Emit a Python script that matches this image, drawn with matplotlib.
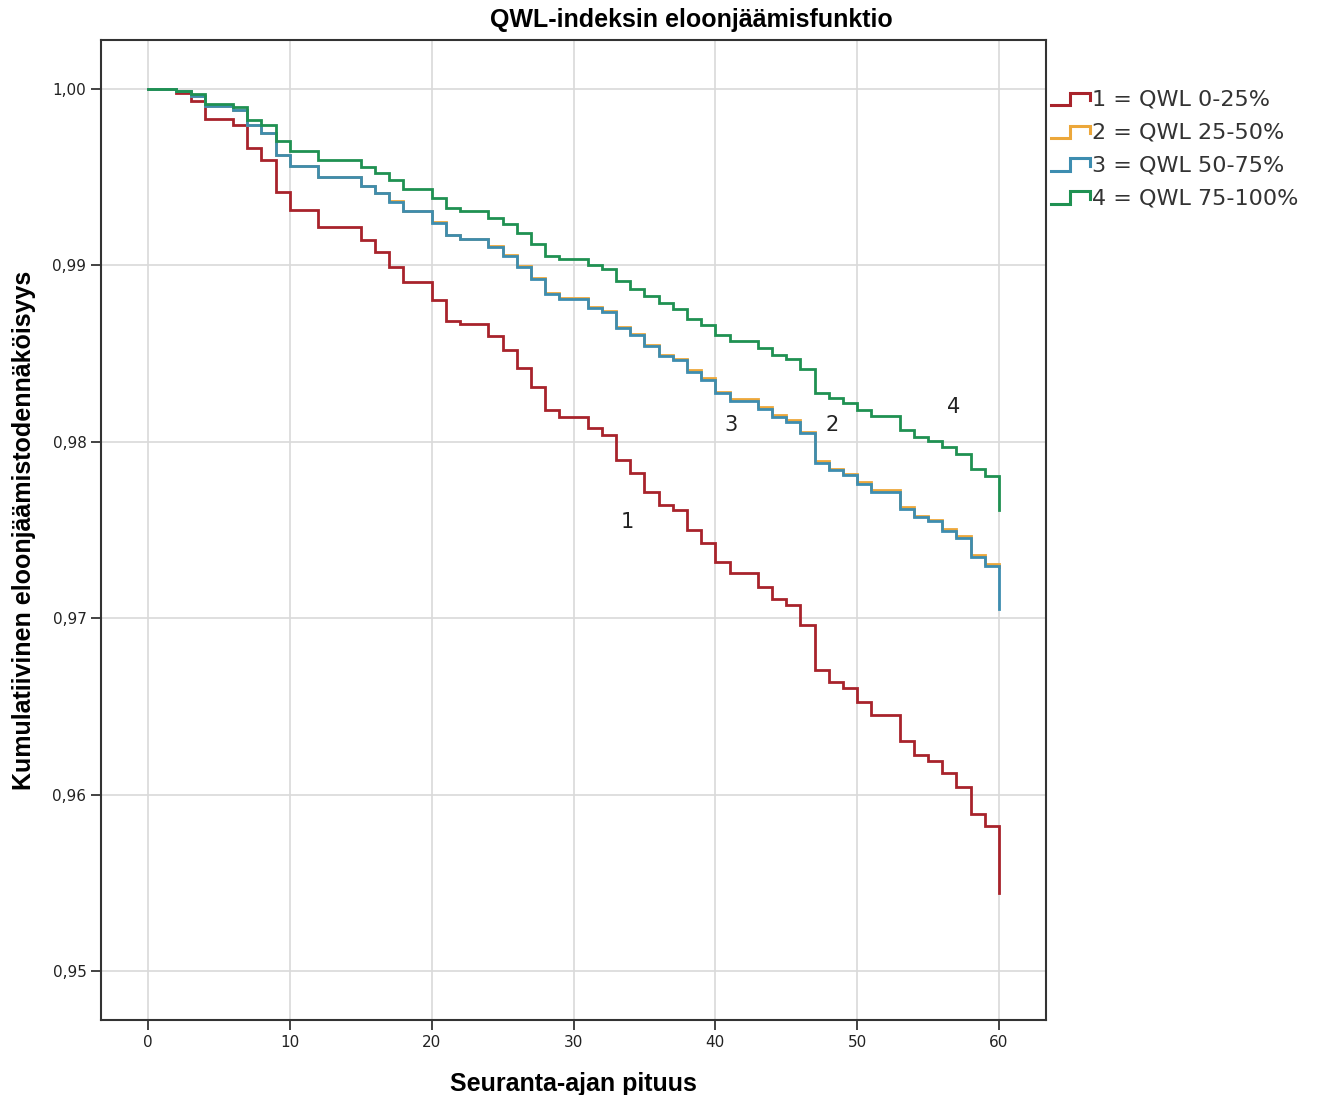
import matplotlib
matplotlib.use("Agg")
import matplotlib.pyplot as plt
from matplotlib.legend_handler import HandlerBase
from matplotlib.lines import Line2D

times = [0, 2, 3, 4, 6, 7, 8, 9, 10, 12, 15, 16, 17, 18, 20, 21, 22, 24, 25, 26, 27, 28, 29,
         31, 32, 33, 34, 35, 36, 37, 38, 39, 40, 41, 43, 44, 45, 46, 47, 48, 49, 50, 51,
         53, 54, 55, 56, 57, 58, 59, 60]

surv_q1 = [1.0, 0.99977, 0.99934, 0.99829, 0.99797, 0.99664, 0.99598, 0.99417, 0.99313, 0.99218,
           0.99142, 0.99076, 0.98990, 0.98905, 0.98803, 0.98685, 0.98668, 0.98598, 0.98522, 0.98417,
           0.98313, 0.98180, 0.98142, 0.98076, 0.98038, 0.97896, 0.97821, 0.97717, 0.97642, 0.97613,
           0.97500, 0.97425, 0.97321, 0.97255, 0.97179, 0.97108, 0.97075, 0.96962, 0.96708, 0.96636,
           0.96604, 0.96523, 0.96453, 0.96302, 0.96226, 0.96192, 0.96123, 0.96042, 0.95891, 0.95821,
           0.95443]

surv_q2 = [1.0, 0.99988, 0.99963, 0.99902, 0.99883, 0.99798, 0.99752, 0.99628, 0.99566, 0.99501,
           0.99452, 0.99410, 0.99363, 0.99308, 0.99246, 0.99174, 0.99151, 0.99110, 0.99058, 0.98997,
           0.98929, 0.98841, 0.98816, 0.98765, 0.98740, 0.98652, 0.98610, 0.98548, 0.98491, 0.98472,
           0.98406, 0.98359, 0.98283, 0.98242, 0.98195, 0.98150, 0.98122, 0.98055, 0.97889, 0.97848,
           0.97819, 0.97772, 0.97724, 0.97629, 0.97582, 0.97559, 0.97506, 0.97464, 0.97358, 0.97307,
           0.97290]

surv_q3 = [1.0, 0.99987, 0.99962, 0.99901, 0.99882, 0.99797, 0.99750, 0.99626, 0.99564, 0.99499,
           0.99450, 0.99408, 0.99361, 0.99306, 0.99243, 0.99171, 0.99148, 0.99106, 0.99053, 0.98992,
           0.98924, 0.98835, 0.98810, 0.98759, 0.98734, 0.98645, 0.98603, 0.98541, 0.98484, 0.98465,
           0.98398, 0.98351, 0.98275, 0.98234, 0.98187, 0.98142, 0.98114, 0.98047, 0.97880, 0.97839,
           0.97810, 0.97763, 0.97715, 0.97620, 0.97573, 0.97550, 0.97497, 0.97455, 0.97349, 0.97298,
           0.97051]

surv_q4 = [1.0, 0.99991, 0.99972, 0.99915, 0.99896, 0.99825, 0.99797, 0.99706, 0.99651, 0.99598,
           0.99560, 0.99522, 0.99484, 0.99433, 0.99380, 0.99328, 0.99309, 0.99271, 0.99237, 0.99186,
           0.99120, 0.99053, 0.99034, 0.99000, 0.98981, 0.98911, 0.98867, 0.98825, 0.98784, 0.98753,
           0.98694, 0.98664, 0.98607, 0.98569, 0.98529, 0.98493, 0.98471, 0.98412, 0.98279, 0.98247,
           0.98218, 0.98180, 0.98146, 0.98066, 0.98028, 0.98006, 0.97972, 0.97930, 0.97848, 0.97806,
           0.97611]

legend_labels = ["1 = QWL 0-25%", "2 = QWL 25-50%", "3 = QWL 50-75%", "4 = QWL 75-100%"]
curve_tags = ["1", "2", "3", "4"]
tag_x = [33.8, 48.2, 41.1, 56.8]
tag_y = [0.97545, 0.98095, 0.98095, 0.98197]
colors = ["#a8232b", "#eca73a", "#3d8db0", "#1f9152"]

x_ticks = [0, 10, 20, 30, 40, 50, 60]
y_ticks = [0.95, 0.96, 0.97, 0.98, 0.99, 1.00]
y_ticklabels = ["0,95", "0,96", "0,97", "0,98", "0,99", "1,00"]


class StepHandler(HandlerBase):
    def create_artists(self, legend, orig_handle, xdescent, ydescent, width, height, fontsize, trans):
        x0 = -xdescent
        y0 = -ydescent
        xs = [x0, x0 + 0.5 * width, x0 + 0.5 * width, x0 + width, x0 + width]
        ys = [y0 + 0.05 * height, y0 + 0.05 * height, y0 + 0.85 * height, y0 + 0.85 * height, y0 + 0.35 * height]
        ln = Line2D(xs, ys, color=orig_handle.get_color(), lw=2.2, solid_joinstyle="miter")
        ln.set_transform(trans)
        return [ln]


fig = plt.figure(figsize=(13.19, 10.95), dpi=100)
ax = fig.add_axes([0.0766, 0.0685, 0.7164, 0.895])

series = [surv_q1, surv_q2, surv_q3, surv_q4]
handles = []
for s, c in zip(series, colors):
    h, = ax.step(times, s, where="post", color=c, lw=2.0, solid_joinstyle="miter")
    handles.append(h)

for t, x, y in zip(curve_tags, tag_x, tag_y):
    ax.text(x, y, t, fontsize=15, ha="center", va="center", color="#222222",
            family="DejaVu Sans")

ax.set_xlim(-3.31, 63.31)
ax.set_ylim(0.94722, 1.00278)
ax.set_xticks(x_ticks)
ax.set_xticklabels([str(v) for v in x_ticks])
ax.set_yticks(y_ticks)
ax.set_yticklabels(y_ticklabels)
ax.tick_params(axis="both", direction="out", length=7, width=1.2, color="#222222",
               labelsize=11, labelcolor="#222222")
ax.grid(True, color="#d9d9d9", lw=1.2)
ax.set_axisbelow(True)
for sp in ax.spines.values():
    sp.set_color("#333333")
    sp.set_linewidth(1.5)

fig.text(0.524, 1 - 20 / 1095, "QWL-indeksin eloonjäämisfunktio", fontsize=18, fontweight="bold",
         family="Liberation Sans", ha="center", va="center")
ax.set_xlabel("Seuranta-ajan pituus", fontsize=18, fontweight="bold", family="Liberation Sans",
              labelpad=16)
ax.set_ylabel("Kumulatiivinen eloonjäämistodennäköisyys", fontsize=18, fontweight="bold",
              family="Liberation Sans", labelpad=12)

leg = fig.legend(handles, legend_labels, loc="upper left", bbox_to_anchor=(0.79, 0.926),
                 frameon=False, handler_map={Line2D: StepHandler()}, handlelength=1.75,
                 handletextpad=0.12, labelspacing=0.58, borderaxespad=0,
                 prop={"family": "DejaVu Sans", "size": 16})
for t in leg.get_texts():
    t.set_color("#333333")

fig.savefig("out.png", dpi=100)
